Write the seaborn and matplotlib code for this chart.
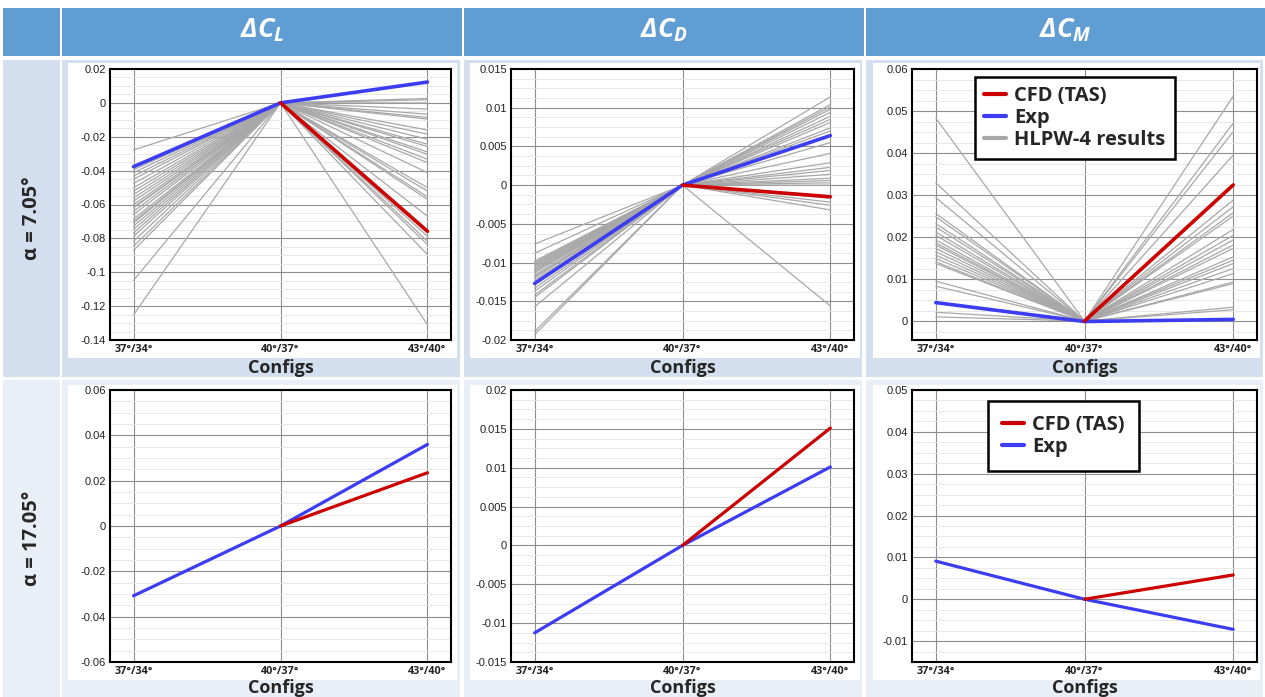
import numpy as np
import pandas as pd
import seaborn as sns
import matplotlib.pyplot as plt
from matplotlib.patches import Rectangle
from matplotlib.lines import Line2D
from matplotlib.ticker import MultipleLocator, AutoMinorLocator, FuncFormatter

# ---- data ----
configs = ['37°/34°', '40°/37°', '43°/40°']
col_titles = [r'$\Delta C_L$', r'$\Delta C_D$', r'$\Delta C_M$']
row_titles = ['α = 7.05°', 'α = 17.05°']

# alpha = 7.05
cl7_exp = [-0.0377, 0.0, 0.0123]
cl7_cfd = [np.nan, 0.0, -0.0758]
cl7_hlpw_lo = [-0.0278, -0.0395, -0.0412, -0.0432, -0.0451, -0.0476, -0.0501, -0.0521,
               -0.0541, -0.0561, -0.0580, -0.0600, -0.0615, -0.0620, -0.0640, -0.0659,
               -0.0685, -0.0700, -0.0709, -0.0728, -0.0748, -0.0768, -0.0788, -0.0817,
               -0.0847, -0.0871, -0.1048, -0.1252]
cl7_hlpw_hi = [0.0026, 0.0018, 0.0, -0.0037, -0.0067, -0.0086, -0.0096, -0.0160,
               -0.0185, -0.0215, -0.0244, -0.0258, -0.0290, -0.0304, -0.0333, -0.0353,
               -0.0412, -0.0501, -0.0521, -0.0555, -0.0570, -0.0669, -0.0768, -0.0788,
               -0.0817, -0.0837, -0.0896, -0.1310]

cd7_exp = [-0.0127, 0.0, 0.0064]
cd7_cfd = [np.nan, 0.0, -0.0015]
cd7_hlpw_lo = [-0.0076, -0.0088, -0.0098, -0.0100, -0.0101, -0.0103, -0.0104, -0.0106,
               -0.0107, -0.0109, -0.0110, -0.0112, -0.0113, -0.0116, -0.0118, -0.0120,
               -0.0123, -0.0126, -0.0133, -0.0137, -0.0142, -0.0145, -0.0157, -0.0189,
               -0.0193]
cd7_hlpw_hi = [0.0114, 0.0104, 0.0101, 0.0098, 0.0094, 0.0089, 0.0085, 0.0081,
               0.0074, 0.0070, 0.0055, 0.0041, 0.0029, 0.0023, 0.0019, 0.0014,
               0.0009, 0.0006, 0.0003, 0.0, -0.0017, -0.0022, -0.0026, -0.0032,
               -0.0156]

cm7_exp = [0.0044, -0.0001, 0.0004]
cm7_cfd = [np.nan, 0.0, 0.0324]
cm7_hlpw_lo = [0.0483, 0.0329, 0.0294, 0.0256, 0.0248, 0.0232, 0.0224, 0.0212,
               0.0204, 0.0193, 0.0186, 0.0181, 0.0173, 0.0165, 0.0157, 0.0149,
               0.0141, 0.0137, 0.0095, 0.0083, 0.0021, 0.0010]
cm7_hlpw_hi = [0.0535, 0.0471, 0.0451, 0.0395, 0.0288, 0.0272, 0.0258, 0.0250,
               0.0218, 0.0204, 0.0193, 0.0181, 0.0173, 0.0153, 0.0145, 0.0137,
               0.0125, 0.0113, 0.0093, 0.0089, 0.0033, 0.0027]

# alpha = 17.05
cl17_exp = [-0.0308, 0.0, 0.0360]
cl17_cfd = [np.nan, 0.0, 0.0235]
cd17_exp = [-0.01125, 0.0, 0.0101]
cd17_cfd = [np.nan, 0.0, 0.0151]
cm17_exp = [0.0091, 0.0, -0.0072]
cm17_cfd = [np.nan, 0.0, 0.0058]

RED = '#cc0000'
BLUE = '#3c3cf2'
GRAY = '#a8a8a8'

sns.set_theme(style='white')
plt.rcParams['font.family'] = ['Open Sans', 'DejaVu Sans']
plt.rcParams['mathtext.fontset'] = 'custom'
plt.rcParams['mathtext.rm'] = 'Open Sans:italic:bold'
plt.rcParams['mathtext.it'] = 'Open Sans:italic:bold'
plt.rcParams['mathtext.bf'] = 'Open Sans:italic:bold'

W, H = 1265, 697
fig = plt.figure(figsize=(W / 100, H / 100), dpi=100)
fig.patch.set_facecolor('white')


def fbox(x0, y0, x1, y1):
    return [x0 / W, 1 - y1 / H, (x1 - x0) / W, (y1 - y0) / H]


def rect(x0, y0, x1, y1, color):
    b = fbox(x0, y0, x1, y1)
    fig.add_artist(Rectangle((b[0], b[1]), b[2], b[3], transform=fig.transFigure,
                             facecolor=color, edgecolor='none', zorder=-10))


# table background
cols_x = [(62, 462), (464, 864), (866, 1265)]
rows_y = [(60, 377), (380, 697)]
row_bg = ['#d3dfee', '#e9eff7']
rect(3, 8, 60, 56, '#5f9dd3')
for (x0, x1), t in zip(cols_x, col_titles):
    rect(x0, 8, x1, 56, '#5f9dd3')
    fig.text((x0 + x1) / 2 / W, 1 - 31 / H, t, color='white', fontsize=19.5,
             ha='center', va='center')
for (y0, y1), bg, t in zip(rows_y, row_bg, row_titles):
    rect(3, y0, 60, y1, bg)
    for x0, x1 in cols_x:
        rect(x0, y0, x1 - 2, y1, bg)
    fig.text(32 / W, 1 - (y0 + y1) / 2 / H, t, rotation=90, fontsize=14.5,
             fontweight='bold', ha='center', va='center')

# white picture areas and axes boxes (pixels)
white_x = [(68, 457), (470, 860), (873, 1260)]
white_y = [(63, 358), (385, 680)]
axes_x = [(110, 451), (511, 854), (912, 1257)]
axes_y = [(69, 340), (390, 662)]
label_y = [368, 688]

panels = [
    [(cl7_exp, cl7_cfd, cl7_hlpw_lo, cl7_hlpw_hi, (-0.14, 0.02), 0.02, None),
     (cd7_exp, cd7_cfd, cd7_hlpw_lo, cd7_hlpw_hi, (-0.02, 0.015), 0.005, None),
     (cm7_exp, cm7_cfd, cm7_hlpw_lo, cm7_hlpw_hi, (-0.0045, 0.06), 0.01, 0.0)],
    [(cl17_exp, cl17_cfd, None, None, (-0.06, 0.06), 0.02, None),
     (cd17_exp, cd17_cfd, None, None, (-0.015, 0.02), 0.005, None),
     (cm17_exp, cm17_cfd, None, None, (-0.015, 0.05), 0.01, -0.01)],
]

fmt = FuncFormatter(lambda v, p: '0' if abs(v) < 1e-12 else f'{v:g}')
xs = [0, 1, 2]

for r in range(2):
    for c in range(3):
        exp, cfd, lo, hi, ylim, step, ymin_tick = panels[r][c]
        rect(white_x[c][0], white_y[r][0], white_x[c][1], white_y[r][1], 'white')
        ax = fig.add_axes(fbox(axes_x[c][0], axes_y[r][0], axes_x[c][1], axes_y[r][1]))
        ax.set_facecolor('white')

        if lo is not None:
            rows = []
            for i, (a, b) in enumerate(zip(lo, hi)):
                rows += [(0, a, i), (1, 0.0, i), (2, b, i)]
            gdf = pd.DataFrame(rows, columns=['x', 'v', 'run'])
            sns.lineplot(data=gdf, x='x', y='v', units='run', estimator=None,
                         color=GRAY, lw=0.9, ax=ax, legend=False, zorder=3)
        lw = 2.6 if r == 0 else 2.3
        sns.lineplot(x=xs, y=exp, color=BLUE, lw=lw, ax=ax, estimator=None,
                     sort=False, zorder=4)
        sns.lineplot(x=xs, y=cfd, color=RED, lw=lw, ax=ax, estimator=None,
                     sort=False, zorder=5)

        ax.set_xlim(-0.16, 2.16)
        ax.set_ylim(*ylim)
        ax.set_xticks(xs)
        ax.set_xticklabels(configs, fontsize=7.8, fontweight='bold')
        ax.xaxis.set_minor_locator(MultipleLocator(0.2))
        if ymin_tick is None:
            ax.yaxis.set_major_locator(MultipleLocator(step))
        else:
            ax.set_yticks(np.arange(ymin_tick, ylim[1] + step / 2, step))
        ax.yaxis.set_minor_locator(AutoMinorLocator(4))
        ax.yaxis.set_major_formatter(fmt)
        for lab in ax.get_yticklabels():
            lab.set_family('Liberation Sans')
            lab.set_fontsize(8)
        ax.tick_params(which='major', direction='in', length=7, width=0.9,
                       color='black', pad=3, labelcolor='#222222')
        ax.tick_params(which='minor', direction='in', length=3.5, width=0.7,
                       color='#444444')
        ax.grid(which='major', axis='both', color='#8e8e8e', lw=0.8)
        ax.grid(which='minor', axis='y', color='#e4e4e4', lw=0.6)
        ax.set_axisbelow(True)
        for s in ax.spines.values():
            s.set_color('black')
            s.set_linewidth(1.5)
            s.set_visible(True)
        ax.set_xlabel('')
        ax.set_ylabel('')
        fig.text(((axes_x[c][0] + axes_x[c][1]) / 2) / W, 1 - label_y[r] / H,
                 'Configs', fontsize=13, fontweight='bold', ha='center', va='center')

        if c == 2:
            handles = [Line2D([], [], color=RED, lw=3), Line2D([], [], color=BLUE, lw=3)]
            labels = ['CFD (TAS)', 'Exp']
            if r == 0:
                handles.append(Line2D([], [], color=GRAY, lw=3))
                labels.append('HLPW-4 results')
                anchor = (0.183, 0.97)
                bpad = 0.45
            else:
                anchor = (0.22, 0.96)
                bpad = 0.7
            leg = ax.legend(handles, labels, loc='upper left', bbox_to_anchor=anchor,
                            frameon=True, fancybox=False, edgecolor='black',
                            framealpha=1, prop=dict(weight='bold', size=14.5),
                            handlelength=1.1, handletextpad=0.4, borderpad=bpad,
                            labelspacing=0.1, borderaxespad=0)
            leg.get_frame().set_linewidth(1.8)
            leg.set_zorder(10)

fig.savefig('out.png', dpi=100)
